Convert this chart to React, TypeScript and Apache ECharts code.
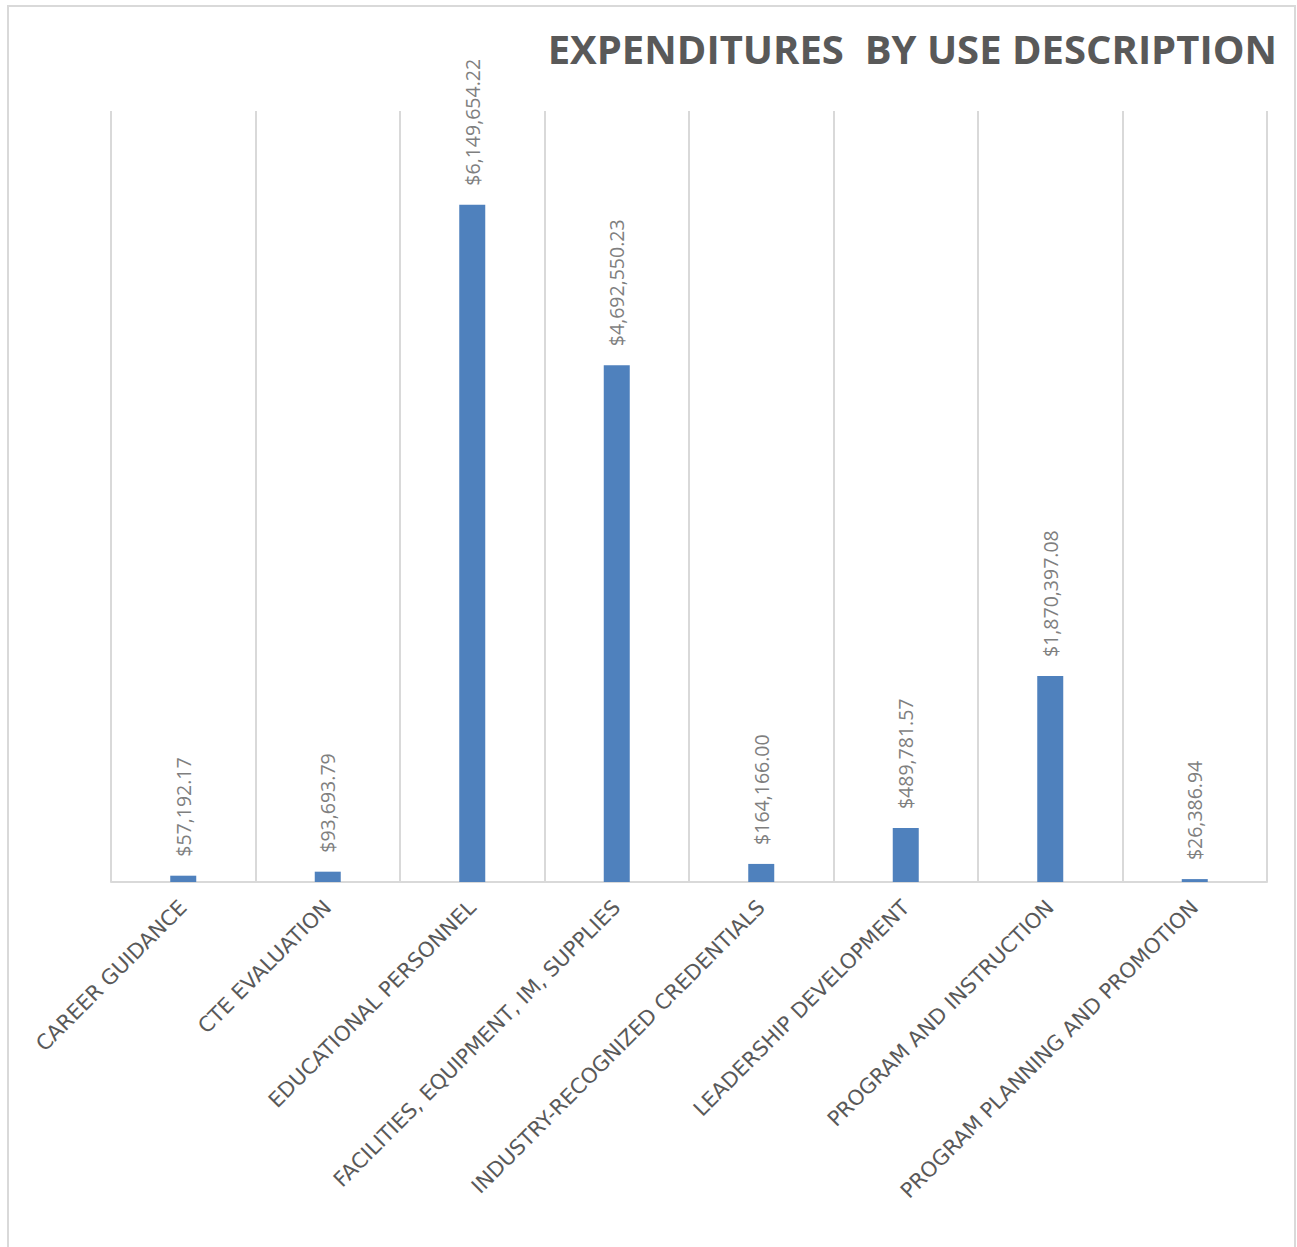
import React, { useEffect, useRef } from "react";
import * as echarts from "echarts";

const categories = [
  "CAREER GUIDANCE",
  "CTE EVALUATION",
  "EDUCATIONAL PERSONNEL",
  "FACILITIES, EQUIPMENT, IM, SUPPLIES",
  "INDUSTRY-RECOGNIZED CREDENTIALS",
  "LEADERSHIP DEVELOPMENT",
  "PROGRAM AND INSTRUCTION",
  "PROGRAM PLANNING AND PROMOTION",
];
const expenditures = [
  57192.17, 93693.79, 6149654.22, 4692550.23, 164166.0, 489781.57, 1870397.08, 26386.94,
];
const titleText = "EXPENDITURES  BY USE DESCRIPTION";
const yMax = 7000000;

function fmtMoney(v: number): string {
  return (
    "$" +
    v.toLocaleString("en-US", { minimumFractionDigits: 2, maximumFractionDigits: 2 })
  );
}

export default function App() {
  const ref = useRef<HTMLDivElement>(null);
  useEffect(() => {
    if (!ref.current) return;
    const chart = echarts.init(ref.current, null, { renderer: "svg" });
    chart.setOption({
      animation: false,
      backgroundColor: "#ffffff",
      title: {
        text: titleText,
        right: 15,
        top: 23,
        textStyle: {
          fontFamily: "Open Sans",
          fontWeight: "bold",
          fontSize: 40,
          color: "#595959",
        },
      },
      graphic: [
        {
          type: "rect",
          shape: { x: 8, y: 6, width: 1287, height: 1252 },
          style: { fill: "none", stroke: "#d9d9d9", lineWidth: 2 },
          silent: true,
        },
      ],
      grid: { left: 111, right: 30, top: 111, bottom: 365, containLabel: false },
      xAxis: {
        type: "category",
        data: categories,
        boundaryGap: true,
        axisLine: { show: true, lineStyle: { color: "#d9d9d9", width: 2 } },
        axisTick: { show: false },
        splitLine: { show: true, lineStyle: { color: "#d9d9d9", width: 2 } },
        axisLabel: {
          interval: 0,
          rotate: 45,
          margin: 22,
          fontFamily: "DejaVu Sans",
          fontSize: 21,
          color: "#595959",
        },
      },
      yAxis: {
        type: "value",
        min: 0,
        max: yMax,
        show: false,
        splitLine: { show: false },
      },
      series: [
        {
          type: "bar",
          data: expenditures,
          barWidth: 26,
          itemStyle: { color: "#4f81bd" },
          label: {
            show: true,
            position: "top",
            rotate: 90,
            align: "left",
            verticalAlign: "middle",
            distance: 19,
            fontFamily: "Open Sans",
            fontSize: 19.5,
            color: "#7f7f7f",
            formatter: (p: any) => fmtMoney(p.value),
          },
        },
      ],
    });
    return () => chart.dispose();
  }, []);
  return (
    <div
      ref={ref}
      style={{ position: "absolute", left: 0, top: 0, width: 1297, height: 1247 }}
    />
  );
}
